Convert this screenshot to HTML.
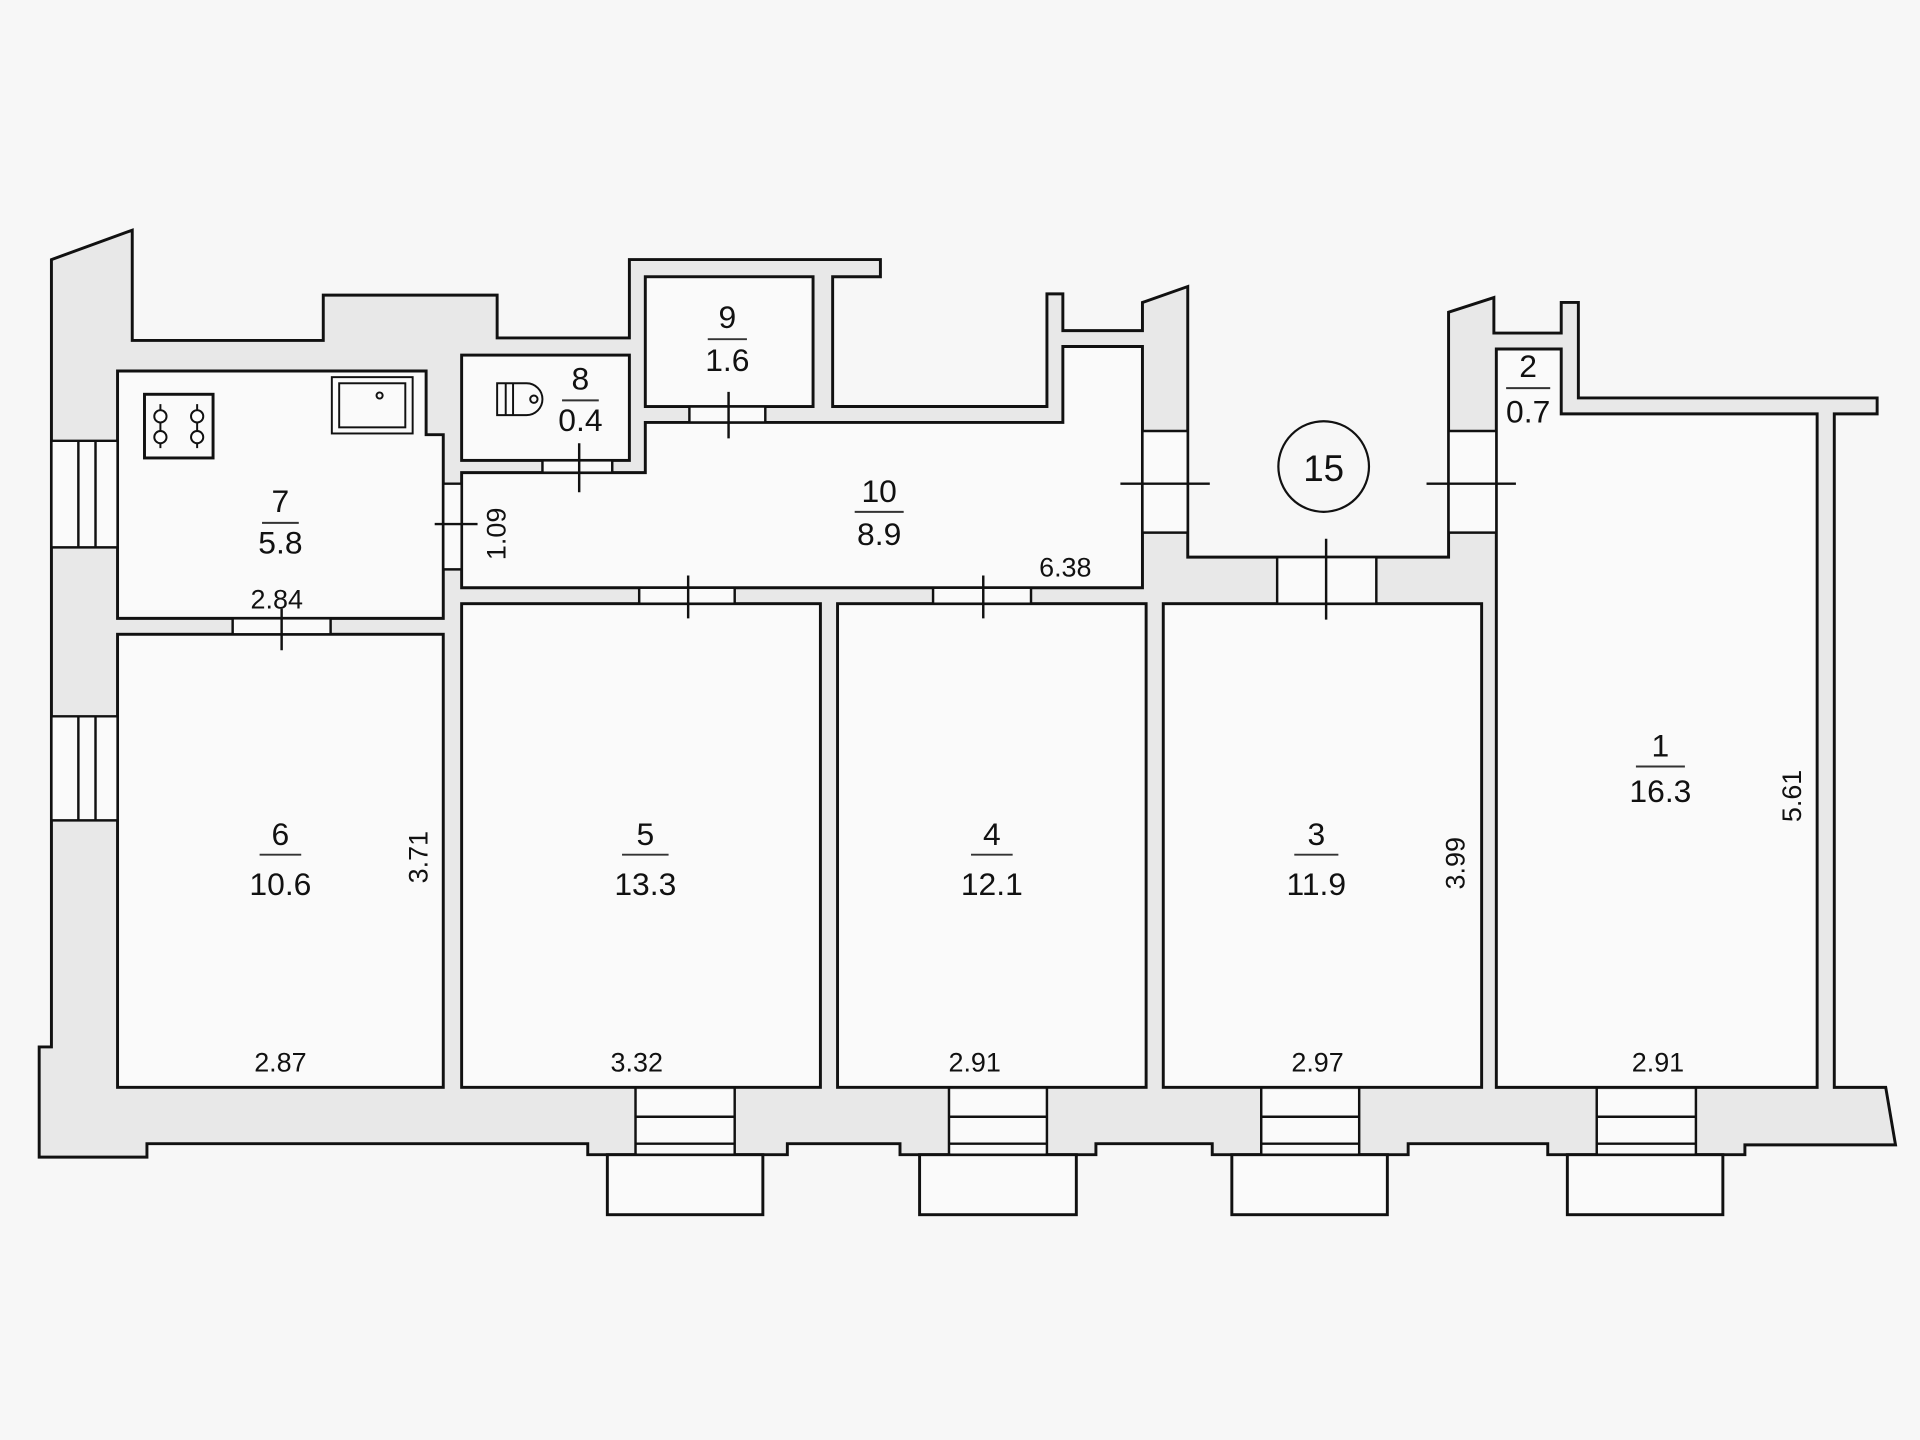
<!DOCTYPE html>
<html><head><meta charset="utf-8"><style>html,body{margin:0;padding:0;background:#f7f7f7}svg{display:block}text{font-family:"Liberation Sans",sans-serif;fill:#111;text-anchor:middle}</style></head>
<body>
<svg width="1920" height="1440" viewBox="0 0 1568 1176" xmlns="http://www.w3.org/2000/svg">
<rect width="1568" height="1176" fill="#f7f7f7"/>
<g stroke="#111" stroke-width="2.4" stroke-linejoin="miter">
<polygon fill="#e8e8e8" points="42,212 108,188 108,278 264,278 264,241 406,241 406,276 514,276 514,212 719,212 719,226 680,226 680,332 855,332 855,240 868,240 868,270 933,270 933,247 970,234 970,455 1183,455 1183,255 1220,243 1220,272 1275,272 1275,247 1289,247 1289,325 1533,325 1533,338 1498,338 1498,888 1540,888 1548,935 1425,935 1425,943 1385,943 1304,943 1264,943 1264,934 1150,934 1150,943 1110,943 1030,943 990,943 990,934 895,934 895,943 855,943 775,943 735,943 735,934 643,934 643,943 600,943 519,943 480,943 480,934 120,934 120,945 32,945 32,855 42,855"/>
<g fill="#fafafa">
<polygon points="96,303 348,303 348,355 362,355 362,505 96,505"/>
<rect x="96" y="518" width="266" height="370"/>
<rect x="377" y="290" width="137" height="86"/>
<rect x="527" y="226" width="137" height="106"/>
<polygon points="377,386 527,386 527,345 868,345 868,283 933,283 933,480 377,480"/>
<rect x="377" y="493" width="293" height="395"/>
<rect x="684" y="493" width="252" height="395"/>
<rect x="950" y="493" width="260" height="395"/>
<polygon points="1222,285 1275,285 1275,338 1484,338 1484,888 1222,888"/>
<rect x="496" y="943" width="127" height="49"/>
<rect x="751" y="943" width="128" height="49"/>
<rect x="1006" y="943" width="127" height="49"/>
<rect x="1280" y="943" width="127" height="49"/>
</g>
</g>
<g fill="#fafafa" stroke="none">
<rect x="520" y="890" width="79" height="52"/><rect x="776" y="890" width="78" height="52"/><rect x="1031" y="890" width="78" height="52"/><rect x="1305" y="890" width="79" height="52"/>
<rect x="43" y="360" width="52" height="87"/><rect x="43" y="585" width="52" height="85"/>
<rect x="190" y="506" width="80" height="11"/>
<rect x="522" y="481" width="78" height="11"/><rect x="762" y="481" width="80" height="11"/>
<rect x="1043" y="456" width="81" height="36"/>
<rect x="563" y="333" width="62" height="11"/>
<rect x="443" y="377" width="57" height="8"/>
<rect x="363" y="395" width="13" height="70"/>
<rect x="934" y="352" width="35" height="83"/><rect x="1184" y="352" width="37" height="83"/>
</g>
<g stroke="#111" stroke-width="2" fill="none">
<path d="M519,888V943M600,888V943M519,912H600M519,934H600"/>
<path d="M775,888V943M855,888V943M775,912H855M775,934H855"/>
<path d="M1030,888V943M1110,888V943M1030,912H1110M1030,934H1110"/>
<path d="M1304,888V943M1385,888V943M1304,912H1385M1304,934H1385"/>
<path d="M42,360H96M42,447H96M64,360V447M78,360V447"/>
<path d="M42,585H96M42,670H96M64,585V670M78,585V670"/>
<path d="M190,505V518M270,505V518M230,497V531"/>
<path d="M522,480V493M600,480V493M562,470V505"/>
<path d="M762,480V493M842,480V493M803,470V505"/>
<path d="M1043,455V493M1124,455V493M1083,440V506"/>
<path d="M563,332V345M625,332V345M595,320V358"/>
<path d="M443,376V386M500,376V386M473,362V402"/>
<path d="M362,395H377M362,465H377M355,428H390"/>
<path d="M933,352H970M933,435H970M915,395H988"/>
<path d="M1183,352H1222M1183,435H1222M1165,395H1238"/>
</g>
<g stroke="#111" stroke-width="1.6" fill="none">
<rect x="118" y="322" width="56" height="52" stroke-width="2.4"/>
<path d="M131,330V366M161,330V366"/>
<circle cx="131" cy="340" r="5" fill="#fff"/><circle cx="131" cy="357" r="5" fill="#fff"/>
<circle cx="161" cy="340" r="5" fill="#fff"/><circle cx="161" cy="357" r="5" fill="#fff"/>
<rect x="271" y="308" width="66" height="46"/><rect x="277" y="313" width="54" height="36"/>
<circle cx="310" cy="323" r="2.5"/>
<path d="M406,313H430A13,13 0 0 1 430,339H406ZM413,313V339M419,313V339"/>
<circle cx="436" cy="326" r="3"/>
<circle cx="1081" cy="381" r="37" stroke-width="1.8"/>
</g>
<g stroke="#333" stroke-width="1.6">
<path d="M578,277H610M459,327H489M698,418H738M1230,317H1266M214,427H244M212,698H246M508,698H546M793,698H827M1057,698H1093M1336,626H1376"/>
</g>
<g font-size="26">
<text x="229" y="418">7</text><text x="229" y="452">5.8</text>
<text x="594" y="268">9</text><text x="594" y="303">1.6</text>
<text x="474" y="318">8</text><text x="474" y="352">0.4</text>
<text x="718" y="410">10</text><text x="718" y="445">8.9</text>
<text x="1248" y="308">2</text><text x="1248" y="345">0.7</text>
<text x="229" y="690">6</text><text x="229" y="731">10.6</text>
<text x="527" y="690">5</text><text x="527" y="731">13.3</text>
<text x="810" y="690">4</text><text x="810" y="731">12.1</text>
<text x="1075" y="690">3</text><text x="1075" y="731">11.9</text>
<text x="1356" y="618">1</text><text x="1356" y="655">16.3</text>
<text x="1081" y="393" font-size="30">15</text>
</g>
<g font-size="22">
<text x="226" y="497">2.84</text>
<text x="870" y="471">6.38</text>
<text x="229" y="875">2.87</text>
<text x="520" y="875">3.32</text>
<text x="796" y="875">2.91</text>
<text x="1076" y="875">2.97</text>
<text x="1354" y="875">2.91</text>
<text transform="translate(413,436) rotate(-90)">1.09</text>
<text transform="translate(349,700) rotate(-90)">3.71</text>
<text transform="translate(1196,705) rotate(-90)">3.99</text>
<text transform="translate(1471,650) rotate(-90)">5.61</text>
</g>
</svg>
</body></html>
